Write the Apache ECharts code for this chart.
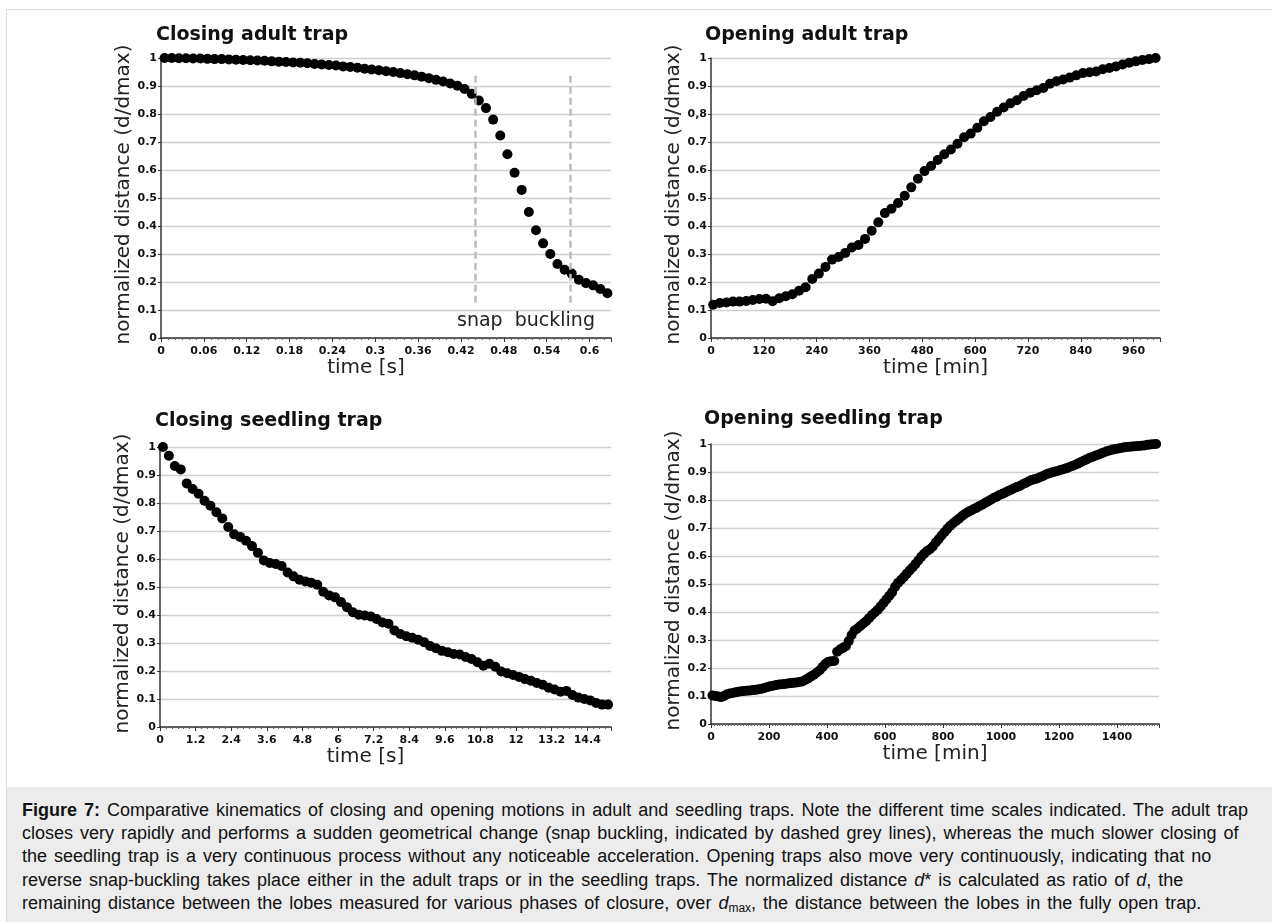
<!DOCTYPE html>
<html><head><meta charset="utf-8">
<script src="https://cdn.jsdelivr.net/npm/echarts@6/dist/echarts.min.js"></script>
<style>
html,body{margin:0;padding:0;background:#fff;width:1272px;height:922px;overflow:hidden;}
#frame{position:absolute;left:6px;top:9px;width:1300px;height:1000px;border-left:1px solid #dcdcdc;border-top:1px solid #dcdcdc;}
#chart{position:absolute;left:0;top:0;width:1272px;height:787px;}
#caption{position:absolute;left:7px;top:787px;width:1265px;height:135px;background:#ececec;font-family:'Liberation Sans',Arial,sans-serif;font-size:18px;word-spacing:2px;line-height:23.2px;color:#111;padding:12px 0 0 15px;box-sizing:border-box;white-space:nowrap;}
#caption sub{font-size:12px;line-height:0;vertical-align:-3px;word-spacing:0;}
</style></head>
<body>
<div id="frame"></div>
<div id="chart"></div>
<div id="caption"><b>Figure 7:</b> Comparative kinematics of closing and opening motions in adult and seedling traps. Note the different time scales indicated. The adult trap<br>closes very rapidly and performs a sudden geometrical change (snap buckling, indicated by dashed grey lines), whereas the much slower closing of<br>the seedling trap is a very continuous process without any noticeable acceleration. Opening traps also move very continuously, indicating that no<br>reverse snap-buckling takes place either in the adult traps or in the seedling traps. The normalized distance <i>d</i>* is calculated as ratio of <i>d</i>, the<br>remaining distance between the lobes measured for various phases of closure, over <i>d</i><sub>max</sub>, the distance between the lobes in the fully open trap.</div>
<script>
// ---------- data ----------
const panelTitles = ['Closing adult trap', 'Opening adult trap', 'Closing seedling trap', 'Opening seedling trap'];
const xNames = ['time [s]', 'time [min]', 'time [s]', 'time [min]'];
const yName = 'normalized distance (d/dmax)';
const yTickLabels = ['0','0.1','0.2','0.3','0.4','0.5','0.6','0.7','0.8','0.9','1'];
const yTickLabelsOpenAdult = ['0','0.1','0.2','0.3','0.4','0.5','0.6','0.7','0,8','0.9','1'];

const closeAdultTime = [0.005,0.015,0.025,0.035,0.045,0.055,0.065,0.075,0.085,0.095,
 0.105,0.115,0.125,0.135,0.145,0.155,0.165,0.175,0.185,0.195,
 0.205,0.215,0.225,0.235,0.245,0.255,0.265,0.275,0.285,0.295,
 0.305,0.315,0.325,0.335,0.345,0.355,0.365,0.375,0.385,0.395,
 0.405,0.415,0.425,0.435,0.445,0.455,0.465,0.475,0.485,0.495,
 0.505,0.515,0.525,0.535,0.545,0.555,0.565,0.575,0.585,0.595,
 0.605,0.615,0.625];
const closeAdultDist = [1.000,1.000,0.999,0.999,0.998,0.998,0.997,0.996,0.996,0.995,
 0.994,0.993,0.992,0.991,0.990,0.988,0.987,0.986,0.984,0.983,
 0.981,0.979,0.977,0.975,0.973,0.970,0.968,0.965,0.962,0.959,
 0.956,0.953,0.950,0.946,0.942,0.938,0.933,0.928,0.922,0.916,
 0.909,0.901,0.889,0.872,0.848,0.821,0.780,0.723,0.656,0.590,
 0.529,0.450,0.385,0.338,0.300,0.264,0.244,0.230,0.208,0.196,
 0.188,0.175,0.160];
const snapLinesX = [0.44, 0.573];
const snapLinesY = [0.113, 0.937];
const snapLabel = 'snap  buckling';
const snapLabelPos = [0.511, 0.06];

const openAdultTime = [5,20,35,50,65,80,95,110,125,140,
 155,170,185,200,215,230,245,260,275,290,
 305,320,335,350,365,380,395,410,425,440,
 455,470,485,500,515,530,545,560,575,590,
 605,620,635,650,665,680,695,710,725,740,
 755,770,785,800,815,830,845,860,875,890,
 905,920,935,950,965,980,995,1010];
const openAdultDist = [0.119,0.125,0.127,0.130,0.130,0.132,0.136,0.139,0.140,0.131,
 0.142,0.149,0.156,0.169,0.181,0.211,0.230,0.254,0.280,0.289,
 0.304,0.323,0.332,0.354,0.383,0.413,0.446,0.462,0.482,0.508,
 0.538,0.569,0.596,0.614,0.636,0.656,0.673,0.694,0.717,0.730,
 0.751,0.774,0.789,0.808,0.823,0.838,0.849,0.864,0.876,0.885,
 0.893,0.908,0.917,0.923,0.930,0.938,0.946,0.949,0.952,0.960,
 0.964,0.970,0.977,0.983,0.988,0.993,0.996,1.000];

const closeSeedTime = [0.1,0.3,0.5,0.7,0.9,1.1,1.3,1.5,1.7,1.9,
 2.1,2.3,2.5,2.7,2.9,3.1,3.3,3.5,3.7,3.9,
 4.1,4.3,4.5,4.7,4.9,5.1,5.3,5.5,5.7,5.9,
 6.1,6.3,6.5,6.7,6.9,7.1,7.3,7.5,7.7,7.9,
 8.1,8.3,8.5,8.7,8.9,9.1,9.3,9.5,9.7,9.9,
 10.1,10.3,10.5,10.7,10.9,11.1,11.3,11.5,11.7,11.9,
 12.1,12.3,12.5,12.7,12.9,13.1,13.3,13.5,13.7,13.9,
 14.1,14.3,14.5,14.7,14.9,15.1];
const closeSeedDist = [1.000,0.969,0.932,0.920,0.870,0.850,0.833,0.808,0.790,0.767,
 0.745,0.714,0.688,0.679,0.665,0.646,0.622,0.595,0.586,0.582,
 0.575,0.552,0.538,0.526,0.520,0.515,0.508,0.483,0.470,0.463,
 0.446,0.428,0.410,0.401,0.398,0.395,0.386,0.373,0.369,0.345,
 0.332,0.324,0.319,0.312,0.303,0.289,0.281,0.272,0.267,0.261,
 0.259,0.250,0.243,0.231,0.219,0.226,0.215,0.198,0.192,0.186,
 0.179,0.171,0.165,0.157,0.151,0.140,0.134,0.126,0.129,0.114,
 0.105,0.100,0.095,0.086,0.080,0.080];

const openSeedTime = [5,15,25,35,45,55,65,75,85,95,
 105,115,125,135,145,155,165,175,185,195,
 205,215,225,235,245,255,265,275,285,295,
 305,315,325,335,345,355,365,375,385,395,
 405,415,425,435,445,455,465,475,485,495,
 505,515,525,535,545,555,565,575,585,595,
 605,615,625,635,645,655,665,675,685,695,
 705,715,725,735,745,755,765,775,785,795,
 805,815,825,835,845,855,865,875,885,895,
 905,915,925,935,945,955,965,975,985,995,
 1005,1015,1025,1035,1045,1055,1065,1075,1085,1095,
 1105,1115,1125,1135,1145,1155,1165,1175,1185,1195,
 1205,1215,1225,1235,1245,1255,1265,1275,1285,1295,
 1305,1315,1325,1335,1345,1355,1365,1375,1385,1395,
 1405,1415,1425,1435,1445,1455,1465,1475,1485,1495,
 1505,1515,1525,1535];
const openSeedDist = [0.102,0.100,0.098,0.096,0.100,0.106,0.109,0.111,0.113,0.115,
 0.117,0.118,0.119,0.120,0.121,0.122,0.124,0.126,0.129,0.132,
 0.135,0.137,0.139,0.141,0.142,0.143,0.145,0.146,0.147,0.148,
 0.150,0.152,0.157,0.163,0.170,0.176,0.184,0.192,0.204,0.215,
 0.222,0.224,0.225,0.258,0.266,0.272,0.278,0.296,0.318,0.334,
 0.341,0.350,0.359,0.367,0.378,0.389,0.398,0.408,0.420,0.432,
 0.445,0.458,0.471,0.490,0.504,0.514,0.525,0.537,0.548,0.559,
 0.571,0.584,0.597,0.608,0.618,0.624,0.634,0.648,0.660,0.673,
 0.685,0.697,0.708,0.717,0.725,0.733,0.742,0.750,0.756,0.762,
 0.767,0.772,0.778,0.783,0.789,0.795,0.801,0.807,0.812,0.818,
 0.822,0.827,0.832,0.837,0.842,0.846,0.850,0.856,0.861,0.866,
 0.871,0.874,0.877,0.881,0.886,0.891,0.895,0.898,0.901,0.904,
 0.907,0.910,0.913,0.917,0.921,0.925,0.930,0.935,0.940,0.945,
 0.950,0.954,0.958,0.962,0.966,0.970,0.974,0.977,0.980,0.982,
 0.984,0.986,0.988,0.989,0.990,0.991,0.992,0.993,0.994,0.995,
 0.997,0.998,0.999,1.000];

const xMax = [0.63, 1020, 15.2, 1545];
const xInterval = [0.06, 120, 1.2, 200];
const xMinorSplit = [6, 8, 6, 20];

// ---------- layout / style ----------
const FONT = 'DejaVu Sans';
const grids = [
  {left:161, top:58, width:450, height:280},
  {left:711, top:58, width:449, height:280},
  {left:160, top:447, width:451, height:280},
  {left:711, top:444, width:448, height:280}
];
const titlePos = [[156,26],[705,26],[155,412],[704,410]];
const xNamePad = [[0,40,0,0],[0,0,0,0],[0,40,0,0],[0,0,0,0]];

function pairs(xs, ys){ return xs.map((x,i)=>[x, ys[i]]); }
const seriesData = [
  pairs(closeAdultTime, closeAdultDist),
  pairs(openAdultTime, openAdultDist),
  pairs(closeSeedTime, closeSeedDist),
  pairs(openSeedTime, openSeedDist)
];
const yLabelSets = [yTickLabels, yTickLabelsOpenAdult, yTickLabels, yTickLabels];

const option = {
  animation:false,
  backgroundColor:'transparent',
  title: panelTitles.map((t,i)=>({text:t, left:titlePos[i][0], top:titlePos[i][1], padding:0,
     textStyle:{fontFamily:FONT, fontWeight:'bold', fontSize:19, color:'#111'}})),
  grid: grids,
  xAxis: grids.map((g,i)=>({
    type:'value', gridIndex:i, min:0, max:xMax[i], interval:xInterval[i],
    name:xNames[i], nameLocation:'middle', nameGap:18,
    nameTextStyle:{fontFamily:FONT, fontSize:20, color:'#222', padding:xNamePad[i]},
    axisLine:{show:true, onZero:false, lineStyle:{color:'#333', width:1.5}},
    axisTick:{show:true, length:4, lineStyle:{color:'#333', width:1}},
    minorTick:{show:true, splitNumber:xMinorSplit[i], length:2, lineStyle:{color:'#666', width:1}},
    splitLine:{show:false},
    axisLabel:{showMaxLabel:false, margin:8, fontFamily:FONT, fontWeight:'bold', fontSize:11, color:'#111',
      formatter:(v)=>String(Math.round(v*1000)/1000)}
  })),
  yAxis: grids.map((g,i)=>({
    type:'value', gridIndex:i, min:0, max:1, interval:0.1,
    name:yName, nameLocation:'middle', nameGap:21,
    nameTextStyle:{fontFamily:FONT, fontSize:20, color:'#222', padding:[0,0,0,7]},
    axisLine:{show:true, lineStyle:{color:'#333', width:1.5}},
    axisTick:{show:true, length:3, lineStyle:{color:'#333', width:1}},
    splitLine:{show:true, lineStyle:{color:'#cfcfcf', width:1.3}},
    axisLabel:{margin:4, fontFamily:FONT, fontWeight:'bold', fontSize:11, color:'#111',
      formatter:(v)=>yLabelSets[i][Math.round(v*10)]}
  })),
  series: seriesData.map((d,i)=>{
    const s = {type:'scatter', xAxisIndex:i, yAxisIndex:i, data:d, symbol:'circle', symbolSize:10,
      itemStyle:{color:'#000', opacity:1}, silent:true};
    if(i===0){
      s.markLine = {symbol:'none', silent:true, animation:false,
        lineStyle:{color:'#bcbcbc', type:[7,4], width:2.5},
        label:{show:false},
        data: snapLinesX.map(x=>[{coord:[x, snapLinesY[1]]},{coord:[x, snapLinesY[0]]}])};
      s.markPoint = {symbol:'circle', symbolSize:1, itemStyle:{color:'rgba(0,0,0,0)'}, silent:true,
        label:{show:true, position:'inside', formatter:snapLabel, fontFamily:FONT, fontSize:19, color:'#222'},
        data:[{coord:snapLabelPos}]};
    }
    return s;
  })
};
const chart = echarts.init(document.getElementById('chart'), null, {renderer:'canvas'});
chart.setOption(option);
</script>
</body></html>
